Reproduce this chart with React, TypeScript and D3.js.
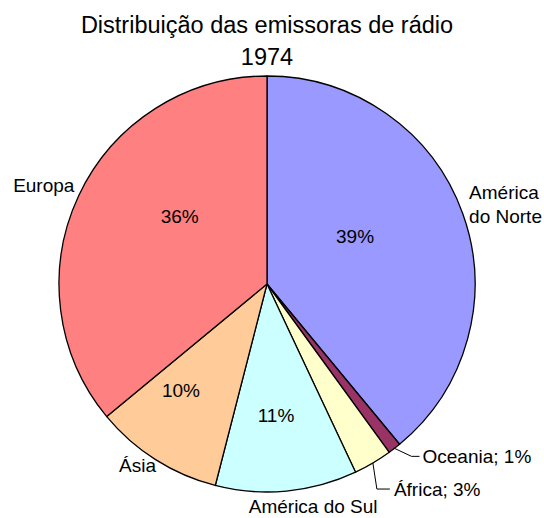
import React from "react";
import * as d3 from "d3";

const categories = ["América do Norte", "Oceania", "África", "América do Sul", "Ásia", "Europa"];
const values = [39, 1, 3, 11, 10, 36];
const colors = ["#9999FF", "#993366", "#FFFFCC", "#CCFFFF", "#FFCC99", "#FF8080"];
const titleLines = ["Distribuição das emissoras de rádio", "1974"];

const W = 544, H = 518;
const cx = 267, cy = 284, R = 208;
const FONT = "'Liberation Sans', Arial, sans-serif";

// inner percent label placement (polar: angle offset in degrees, radius fraction)
const innerPlacement: Record<string, { da: number; rf: number }> = {
  "América do Norte": { da: -8.3, rf: 0.48 },
  "Europa": { da: 12.4, rf: 0.53 },
  "Ásia": { da: 6.4, rf: 0.66 },
  "América do Sul": { da: 1.5, rf: 0.635 },
};
// outer name label placement (absolute polar angle in degrees, radius fraction)
const outerPlacement: Record<string, { a: number; r: number; anchor: string }> = {
  "América do Norte": { a: 67.2, r: 1.054, anchor: "start" },
  "Europa": { a: 289.9, r: 1.298, anchor: "start" },
  "Ásia": { a: 218.2, r: 1.15, anchor: "start" },
  "América do Sul": { a: 168.6, r: 1.123, anchor: "middle" },
};

export default function App() {
  const pie = d3.pie<number>().sort(null).value((d) => d)(values);
  const arc = d3.arc<d3.PieArcDatum<number>>().innerRadius(0).outerRadius(R);
  const total = d3.sum(values);
  const pct = (v: number) => `${Math.round((v / total) * 100)}%`;
  const polar = (deg: number, r: number) => {
    const a = (deg * Math.PI) / 180;
    return [cx + r * Math.sin(a), cy - r * Math.cos(a)];
  };
  const deg = (rad: number) => (rad * 180) / Math.PI;

  return (
    <svg width={W} height={H} style={{ position: "absolute", left: 0, top: 0, background: "#fff" }}>
      <g fontFamily={FONT} fill="#000">
        <text x={cx} y={33} fontSize={23.5} textAnchor="middle">{titleLines[0]}</text>
        <text x={cx} y={65} fontSize={23.5} textAnchor="middle">{titleLines[1]}</text>
      </g>
      <g transform={`translate(${cx},${cy})`}>
        {pie.map((p, i) => (
          <path key={i} d={arc(p) || ""} fill={colors[i]} stroke="#000" strokeWidth={1.3} strokeLinejoin="round" />
        ))}
      </g>
      <g fontFamily={FONT} fontSize={19} fill="#000">
        {pie.map((p, i) => {
          const name = categories[i];
          const mid = deg((p.startAngle + p.endAngle) / 2);
          const ip = innerPlacement[name];
          const op = outerPlacement[name];
          const out: React.ReactNode[] = [];
          if (ip) {
            const [x, y] = polar(mid + ip.da, R * ip.rf);
            out.push(
              <text key={`p${i}`} x={x} y={y + 6} textAnchor="middle">{pct(values[i])}</text>
            );
          }
          if (op) {
            const [x, y] = polar(op.a, R * op.r);
            if (name === "América do Norte") {
              const parts = name.split(" ");
              out.push(
                <text key={`o${i}`} x={x} y={y} textAnchor={op.anchor as any}>
                  <tspan x={x}>{parts[0]}</tspan>
                  <tspan x={x} dy={24}>{parts.slice(1).join(" ")}</tspan>
                </text>
              );
            } else {
              out.push(
                <text key={`o${i}`} x={x} y={y} textAnchor={op.anchor as any}>{name}</text>
              );
            }
          }
          if (!ip && !op) {
            const [x0, y0] = polar(mid, R);
            let pts: number[][];
            let tx: number, ty: number;
            if (name === "Oceania") {
              pts = [[x0, y0], [x0 + 17, y0 + 8], [x0 + 25, y0 + 8]];
              tx = x0 + 28; ty = y0 + 15;
            } else {
              pts = [[x0, y0], [x0 + 4, y0 + 26], [x0 + 17, y0 + 26]];
              tx = x0 + 21; ty = y0 + 33;
            }
            out.push(
              <polyline key={`l${i}`} points={pts.map((q) => q.join(",")).join(" ")} fill="none" stroke="#000" strokeWidth={1} />
            );
            out.push(
              <text key={`t${i}`} x={tx} y={ty}>{`${name}; ${pct(values[i])}`}</text>
            );
          }
          return <g key={i}>{out}</g>;
        })}
      </g>
    </svg>
  );
}
